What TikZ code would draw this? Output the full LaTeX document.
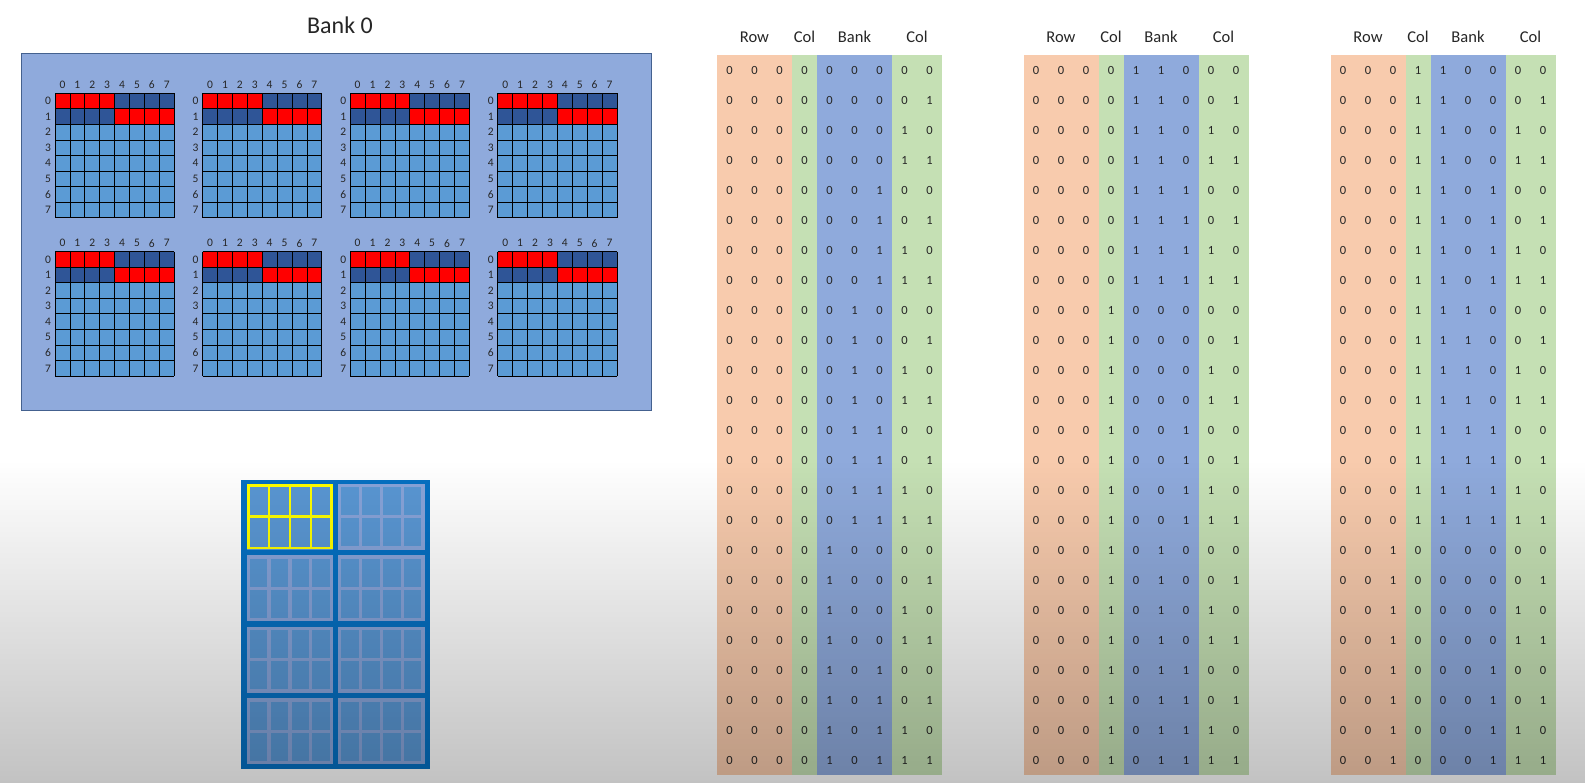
\documentclass[tikz,border=0pt]{standalone}
\usepackage{fontspec}
\setmainfont{Carlito}
\usetikzlibrary{fadings}
\definecolor{bankbg}{HTML}{8FAADC}
\definecolor{bankborder}{HTML}{44618F}
\definecolor{midblue}{HTML}{5B9BD5}
\definecolor{darkblue}{HTML}{2F5597}
\definecolor{cellred}{HTML}{FF0000}
\definecolor{chipblue}{HTML}{0670C2}
\definecolor{chipcell}{HTML}{5A97D3}
\definecolor{chipframe}{HTML}{88A4D9}
\definecolor{hiyellow}{HTML}{FFFF00}
\definecolor{roworange}{HTML}{F8CBAD}
\definecolor{colgreen}{HTML}{C5E0B4}
\definecolor{bankblue}{HTML}{8FAADC}
\definecolor{txt}{HTML}{262626}
\tikzfading[name=fadedown, top color=transparent!100, bottom color=transparent!0]
\def\cw{14.9}
\def\ch{15.55}
\newcommand\bankgrid[3]{%
  \begin{scope}[shift={(#1,#2)}]
    \fill[midblue] (0,0) rectangle (8*\cw,8*\ch);
    \fill[cellred] (0,0) rectangle (4*\cw,\ch);
    \fill[darkblue] (4*\cw,0) rectangle (8*\cw,\ch);
    \fill[darkblue] (0,\ch) rectangle (4*\cw,2*\ch);
    \fill[cellred] (4*\cw,\ch) rectangle (8*\cw,2*\ch);
    \foreach \i in {0,...,8} {
      \draw[gridline] (\i*\cw,0) -- (\i*\cw,8*\ch);
      \draw[gridline] (0,\i*\ch) -- (8*\cw,\i*\ch);
    }
    \foreach \i in {0,...,7} {
      \node[glabel] (#3-c\i) at (\i*\cw+\cw/2,-8.5) {\i};
      \node[glabel] (#3-r\i) at (-7,\i*\ch+\ch/2) {\i};
    }
  \end{scope}}
\newcommand\chipblock[3]{% x y highlighted(0/1)
  \begin{scope}[shift={(#1,#2)}]
    \fill[chipcell] (0,0) rectangle (86.5,65.5);
    \ifnum#3=1
      \tikzset{blk/.style={draw=hiyellow,line width=2.6}}
    \else
      \tikzset{blk/.style={draw=chipframe,line width=3.2}}
    \fi
    \draw[blk] (1.5,1.5) rectangle (85,64);
    \foreach \k in {1,2,3} {\draw[blk] (1.5+20.875*\k,1.5) -- (1.5+20.875*\k,64);}
    \draw[blk] (1.5,32.75) -- (85,32.75);
  \end{scope}}
\newcommand\addrtable[3]{% x0 start id
  \begin{scope}[shift={(#1,0)}]
    \fill[roworange] (0,55) rectangle (75,775);
    \fill[colgreen] (75,55) rectangle (100,775);
    \fill[bankblue] (100,55) rectangle (175,775);
    \fill[colgreen] (175,55) rectangle (225,775);
    \node[hdr] (#3-hrow) at (37.5,37) {Row};
    \node[hdr] (#3-hcol1) at (87.5,37) {Col};
    \node[hdr] (#3-hbank) at (137.5,37) {Bank};
    \node[hdr] (#3-hcol2) at (200,37) {Col};
    \foreach \r in {0,...,23} {
      \foreach \j in {0,...,8} {
        \pgfmathtruncatemacro\vv{#2+\r}
        \pgfmathtruncatemacro\bb{mod(floor(\vv/(2^(8-\j))),2)}
        \node[digit] (#3-\r-\j) at (12.5+25*\j,70+30*\r) {\bb};
      }
    }
  \end{scope}}
\begin{document}
\begin{tikzpicture}[x=1pt,y=-1pt,
  gridline/.style={draw=black,line width=0.8},
  glabel/.style={inner sep=0,font=\fontsize{11.5}{13}\selectfont,text=txt},
  hdr/.style={inner sep=0,font=\fontsize{16.5}{19}\selectfont,text=txt},
  digit/.style={inner sep=0,font=\fontsize{12.5}{14}\selectfont,text=txt},
  title/.style={inner sep=0,font=\fontsize{24}{28}\selectfont,text=txt}]
\useasboundingbox (0,0) rectangle (1589,783);
\fill[white] (0,0) rectangle (1589,783);
% Bank 0
\node[title] (banktitle) at (340,25.5) {Bank 0};
\fill[bankbg] (21,54) rectangle (651,410);
\draw[bankborder,line width=1] (21,54) rectangle (651,410);
\foreach \k in {0,1,2,3} {
  \bankgrid{55+147.6*\k}{93.3}{gt\k}
  \bankgrid{55+147.6*\k}{251.7}{gb\k}
}
% chip
\fill[chipblue] (241,480) rectangle (430,769);
\foreach \r in {0,1,2,3} {
  \foreach \c in {0,1} {
    \pgfmathtruncatemacro\hl{(\r==0)&&(\c==0)?1:0}
    \chipblock{246.7+91.3*\c}{484+71.5*\r}{\hl}
  }
}
% tables
\addrtable{717}{0}{ta}
\addrtable{1023.5}{24}{tb}
\addrtable{1330.5}{48}{tc}
% bottom darkening
\fill[black,opacity=0.24,path fading=fadedown] (0,460) rectangle (1589,783);
\end{tikzpicture}
\end{document}
